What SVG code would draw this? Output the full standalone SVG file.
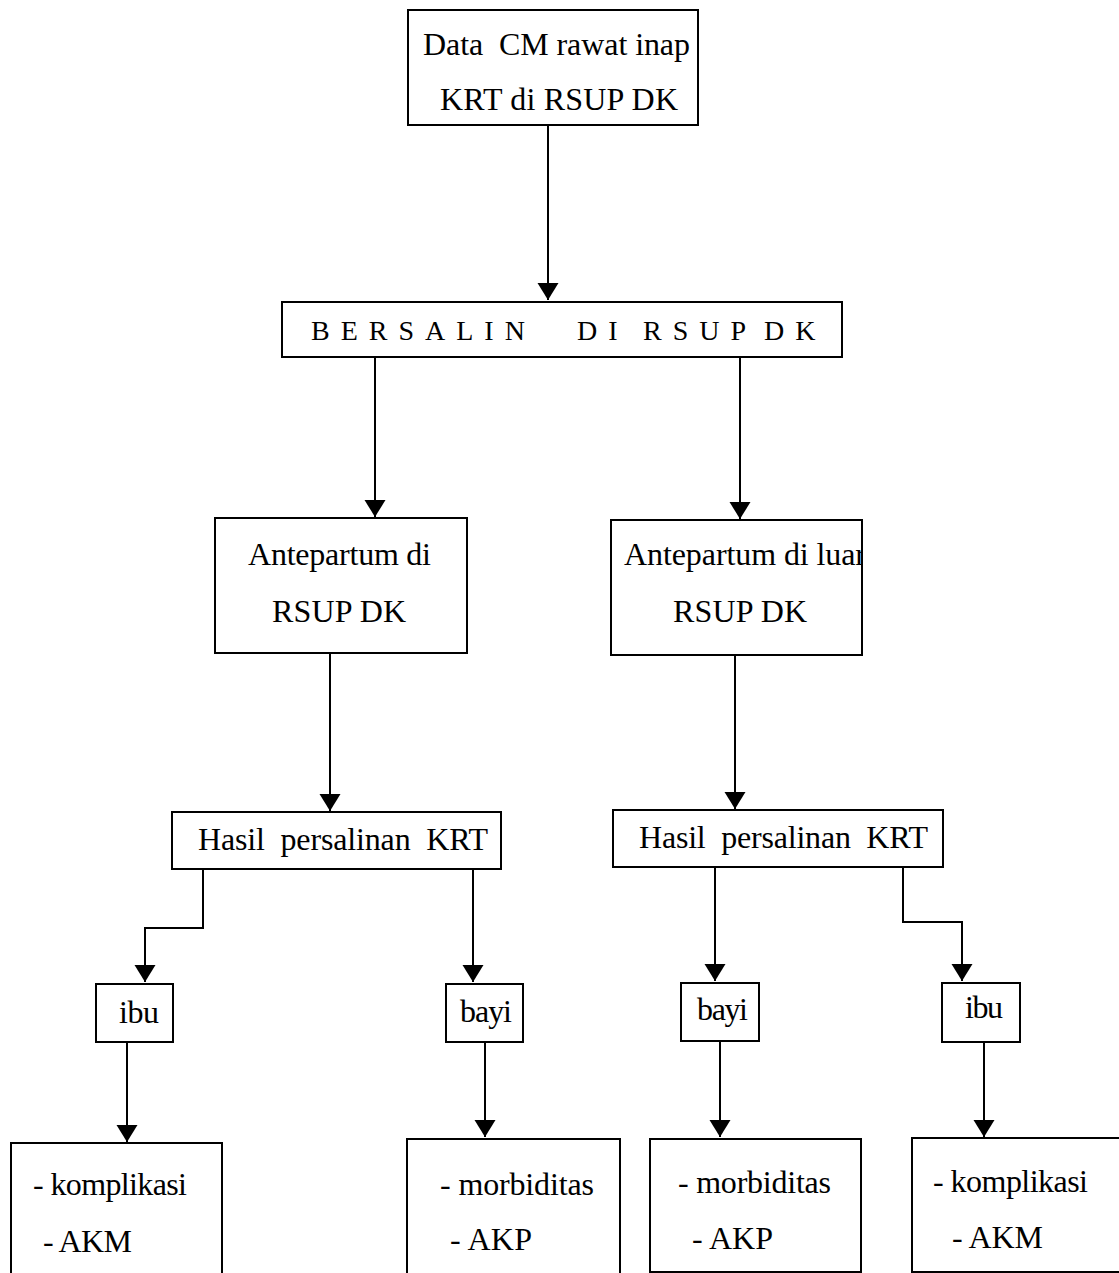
<svg xmlns="http://www.w3.org/2000/svg" width="1119" height="1273" viewBox="0 0 1119 1273">
<style>
.box{fill:#fff;stroke:#000;stroke-width:2}
.t{font-family:"Liberation Serif","Times New Roman",serif;font-size:32px;fill:#000}
.tb{font-family:"Liberation Serif","Times New Roman",serif;font-size:28px;fill:#000;letter-spacing:11px}
.c{fill:none;stroke:#000;stroke-width:2}
</style>
<defs>
<marker id="ah" markerUnits="userSpaceOnUse" markerWidth="18" markerHeight="22" refX="17" refY="10.5" orient="auto">
<path d="M0,0 L17,10.5 L0,21 Z" fill="#000"/>
</marker>
<clipPath id="clipR"><rect x="611" y="520" width="251" height="135"/></clipPath>
</defs>
<rect width="1119" height="1273" fill="#fff"/>

<g id="connectors">
<path class="c" d="M548,125 V300" marker-end="url(#ah)"/>
<path class="c" d="M375,357 V517" marker-end="url(#ah)"/>
<path class="c" d="M740,357 V519" marker-end="url(#ah)"/>
<path class="c" d="M330,653 V811" marker-end="url(#ah)"/>
<path class="c" d="M735,655 V809" marker-end="url(#ah)"/>
<path class="c" d="M203,869 V928 H145 V982" marker-end="url(#ah)"/>
<path class="c" d="M473,869 V982" marker-end="url(#ah)"/>
<path class="c" d="M715,867 V981" marker-end="url(#ah)"/>
<path class="c" d="M903,867 V922 H962 V981" marker-end="url(#ah)"/>
<path class="c" d="M127,1042 V1142" marker-end="url(#ah)"/>
<path class="c" d="M485,1042 V1137" marker-end="url(#ah)"/>
<path class="c" d="M720,1041 V1137" marker-end="url(#ah)"/>
<path class="c" d="M984,1042 V1137" marker-end="url(#ah)"/>
</g>

<g id="node-data">
<rect class="box" x="408" y="10" width="290" height="115"/>
<text class="t" x="423" y="55" textLength="267" lengthAdjust="spacing" xml:space="preserve">Data  CM rawat inap</text>
<text class="t" x="440" y="110" textLength="238" lengthAdjust="spacing">KRT di RSUP DK</text>
</g>

<g id="node-bersalin">
<rect class="box" x="282" y="302" width="560" height="55"/>
<text class="tb" y="340"><tspan x="311">BERSALIN</tspan> <tspan x="577">DI</tspan> <tspan x="643">RSUP</tspan> <tspan x="764">DK</tspan></text>
</g>

<g id="node-ante-in">
<rect class="box" x="215" y="518" width="252" height="135"/>
<text class="t" x="248" y="565" textLength="183" lengthAdjust="spacing">Antepartum di</text>
<text class="t" x="272" y="622" textLength="134" lengthAdjust="spacing">RSUP DK</text>
</g>

<g id="node-ante-out">
<rect class="box" x="611" y="520" width="251" height="135"/>
<text class="t" x="624" y="565" textLength="242" lengthAdjust="spacing" clip-path="url(#clipR)">Antepartum di luar</text>
<text class="t" x="673" y="622" textLength="134" lengthAdjust="spacing">RSUP DK</text>
</g>

<g id="node-hasil-left">
<rect class="box" x="172" y="812" width="329" height="57"/>
<text class="t" x="198" y="850" textLength="290" lengthAdjust="spacing" xml:space="preserve">Hasil  persalinan  KRT</text>
</g>

<g id="node-hasil-right">
<rect class="box" x="613" y="810" width="330" height="57"/>
<text class="t" x="639" y="848" textLength="289" lengthAdjust="spacing" xml:space="preserve">Hasil  persalinan  KRT</text>
</g>

<g id="node-ibu-left">
<rect class="box" x="96" y="984" width="77" height="58"/>
<text class="t" x="119" y="1023" textLength="40" lengthAdjust="spacing">ibu</text>
</g>

<g id="node-bayi-left">
<rect class="box" x="446" y="984" width="77" height="58"/>
<text class="t" x="460" y="1022" textLength="52" lengthAdjust="spacing">bayi</text>
</g>

<g id="node-bayi-right">
<rect class="box" x="681" y="983" width="78" height="58"/>
<text class="t" x="697" y="1020" textLength="51" lengthAdjust="spacing">bayi</text>
</g>

<g id="node-ibu-right">
<rect class="box" x="942" y="983" width="78" height="59"/>
<text class="t" x="965" y="1018" textLength="38" lengthAdjust="spacing">ibu</text>
</g>

<g id="node-out-1">
<rect class="box" x="11" y="1143" width="211" height="160"/>
<text class="t" x="33" y="1195" textLength="154" lengthAdjust="spacing">- komplikasi</text>
<text class="t" x="43" y="1252" textLength="89" lengthAdjust="spacing">- AKM</text>
</g>

<g id="node-out-2">
<rect class="box" x="407" y="1139" width="213" height="160"/>
<text class="t" x="440" y="1195" textLength="154" lengthAdjust="spacing">- morbiditas</text>
<text class="t" x="450" y="1250" textLength="82" lengthAdjust="spacing">- AKP</text>
</g>

<g id="node-out-3">
<rect class="box" x="650" y="1139" width="211" height="133"/>
<text class="t" x="678" y="1193" textLength="153" lengthAdjust="spacing">- morbiditas</text>
<text class="t" x="692" y="1249" textLength="81" lengthAdjust="spacing">- AKP</text>
</g>

<g id="node-out-4">
<rect class="box" x="912" y="1138" width="230" height="134"/>
<text class="t" x="933" y="1192" textLength="155" lengthAdjust="spacing">- komplikasi</text>
<text class="t" x="952" y="1248" textLength="91" lengthAdjust="spacing">- AKM</text>
</g>
</svg>
